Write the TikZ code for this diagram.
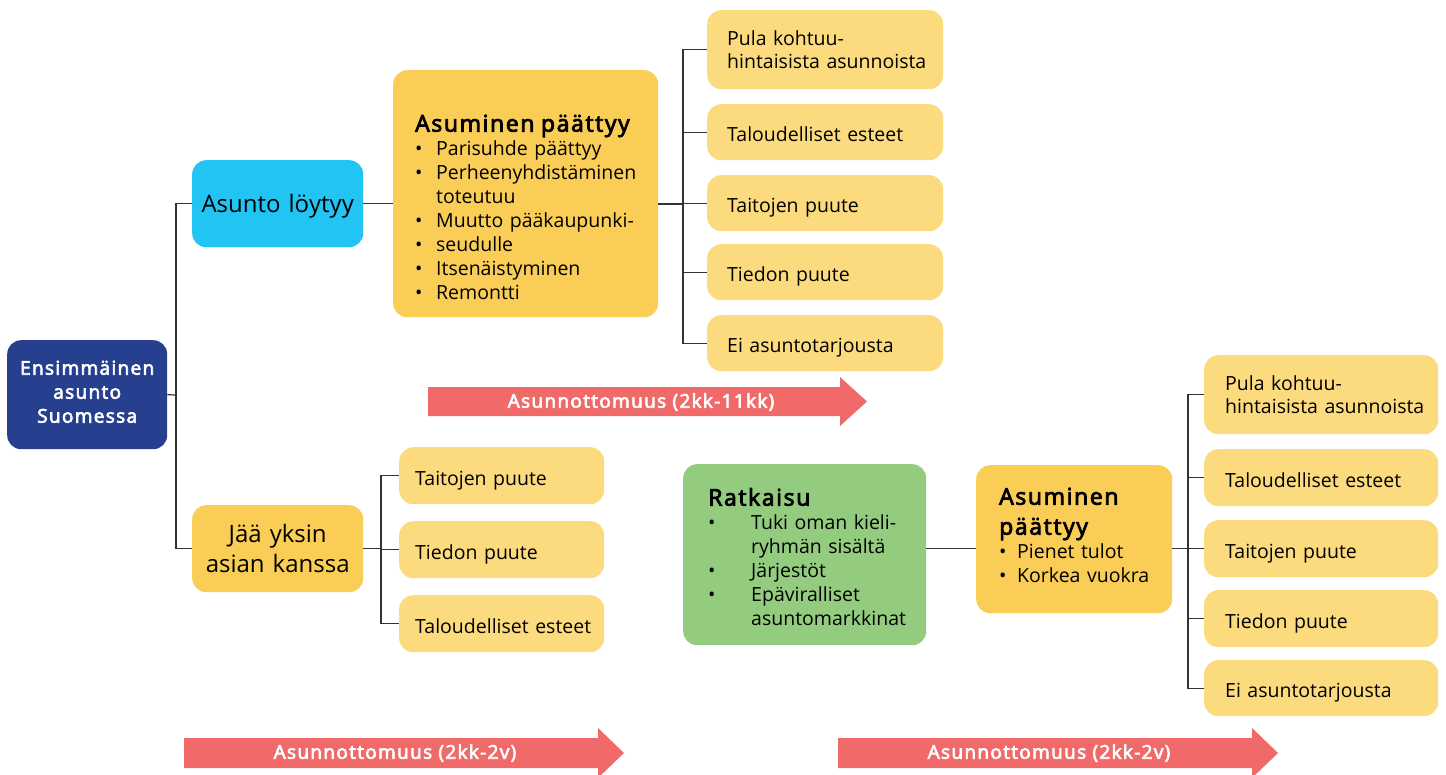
\documentclass[tikz,border=0pt]{standalone}
\usepackage{fontspec}
\setmainfont{Open Sans}[BoldFont={Open Sans}, BoldFeatures={FakeBold=3.5, LetterSpace=7}]
\usetikzlibrary{positioning}

\definecolor{startblue}{HTML}{26408F}
\definecolor{foundcyan}{HTML}{21C4F3}
\definecolor{endyellow}{HTML}{FACD56}
\definecolor{causeyellow}{HTML}{FCDB7E}
\definecolor{fixgreen}{HTML}{93CC7F}
\definecolor{timered}{HTML}{F06A69}
\definecolor{linegray}{HTML}{333333}

\lefthyphenmin=62
\newcommand{\itembul}[1][21pt]{\makebox[#1][l]{\textbullet}}

\tikzset{
  box/.style={rounded corners=14pt, anchor=north west, inner ysep=0pt, align=left},
  startbox/.style={box, fill=startblue, text=white, align=center, inner xsep=5pt,
    text width=150pt, font=\fontsize{19}{24}\selectfont\bfseries},
  mainbox/.style={box, align=center, inner xsep=4pt, text width=163pt,
    font=\fontsize{24}{30}\selectfont},
  endbox/.style={box, fill=endyellow, inner xsep=22pt, font=\fontsize{19.5}{24}\selectfont},
  fixbox/.style={box, fill=fixgreen, inner xsep=25pt, font=\fontsize{19.5}{24}\selectfont},
  causebox/.style={box, fill=causeyellow, inner xsep=20pt, font=\fontsize{19.5}{22.5}\selectfont},
  singlebox/.style={causebox, execute at begin node={\rule[-7pt]{0pt}{33pt}}},
  link/.style={draw=linegray, line width=1.2pt},
  timearrow/.style={fill=timered},
  timetext/.style={text=white, font=\fontsize{19}{20}\selectfont\bfseries}
}

\begin{document}
\begin{tikzpicture}[x=1pt,y=-1pt]
\useasboundingbox (0,0) rectangle (1446,774);

% start and the two paths
\node[startbox, minimum height=109pt] (start) at (7,340) {Ensimmäinen\\asunto\\Suomessa\rule[-6pt]{0pt}{0pt}};
\node[mainbox, fill=foundcyan, minimum height=87pt] (found) at (192,160) {\rule[-6pt]{0pt}{30pt}Asunto~löytyy};
\node[mainbox, fill=endyellow, minimum height=87pt] (alone) at (192,505) {Jää yksin\\asian kanssa};

% housing found
\node[endbox, text width=221pt, minimum height=247pt] (end1) at (393,70)
  {\rule{0pt}{44pt}{\fontsize{23}{24}\selectfont\bfseries Asuminen~päättyy}\\
   \itembul Parisuhde~päättyy\\
   \itembul Perheenyhdistäminen\\
   \hspace*{21pt}toteutuu\\
   \itembul Muutto~pääkaupunki-\\
   \itembul seudulle\\
   \itembul Itsenäistyminen\\
   \itembul Remontti};

\node[causebox, text width=196pt, minimum height=79pt] (c1) at (707,10) {Pula~kohtuu-\\hintaisista~asunnoista};
\node[singlebox, text width=196pt, minimum height=56pt] (c2) at (707,104) {Taloudelliset~esteet};
\node[singlebox, text width=196pt, minimum height=56pt] (c3) at (707,175) {Taitojen~puute};
\node[singlebox, text width=196pt, minimum height=56pt] (c4) at (707,244) {Tiedon~puute};
\node[singlebox, text width=196pt, minimum height=56pt] (c5) at (707,315) {Ei~asuntotarjousta};

% left alone
\node[singlebox, inner xsep=16pt, text width=173pt, minimum height=57pt] (a1) at (399,447) {Taitojen~puute};
\node[singlebox, inner xsep=16pt, text width=173pt, minimum height=57pt] (a2) at (399,521) {Tiedon~puute};
\node[singlebox, inner xsep=16pt, text width=173pt, minimum height=57pt] (a3) at (399,595) {Taloudelliset~esteet};

% solution and second ending
\node[fixbox, text width=193pt, minimum height=181pt] (fix) at (683,464)
  {\rule{0pt}{22pt}{\fontsize{23}{24}\selectfont\bfseries Ratkaisu}\\
   \itembul[43pt]Tuki~oman~kieli-\\
   \hspace*{43pt}ryhmän~sisältä\\
   \itembul[43pt]Järjestöt\\
   \itembul[43pt]Epäviralliset\\
   \hspace*{43pt}asuntomarkkinat};
\node[endbox, inner xsep=23pt, text width=150pt, minimum height=148pt] (end2) at (976,465)
  {{\fontsize{23}{24}\selectfont\bfseries Asuminen}\\[6pt]
   {\fontsize{23}{24}\selectfont\bfseries päättyy}\\
   \itembul[18pt]Pienet~tulot\\
   \itembul[18pt]Korkea~vuokra\rule[-8pt]{0pt}{0pt}};

\node[causebox, inner xsep=21pt, text width=192pt, minimum height=79pt] (r1) at (1204,355) {Pula~kohtuu-\\hintaisista~asunnoista};
\node[singlebox, inner xsep=21pt, text width=192pt, minimum height=57pt] (r2) at (1204,449) {Taloudelliset~esteet};
\node[singlebox, inner xsep=21pt, text width=192pt, minimum height=57pt] (r3) at (1204,520) {Taitojen~puute};
\node[singlebox, inner xsep=21pt, text width=192pt, minimum height=57pt] (r4) at (1204,590) {Tiedon~puute};
\node[singlebox, inner xsep=21pt, text width=192pt, minimum height=56pt] (r5) at (1204,660) {Ei~asuntotarjousta};

% connectors
\coordinate (b0) at (176,395);
\draw[link] (start.east) -- (b0);
\draw[link] (found.west) -- (b0 |- found.west) -- (b0 |- alone.west) -- (alone.west);

\coordinate (b1) at (683,204);
\draw[link] (found.east) -- (found.east -| end1.west);
\draw[link] (end1.east |- b1) -- (b1);
\draw[link] (c1.west) -- (b1 |- c1.west) -- (b1 |- c5.west) -- (c5.west);
\foreach \n in {c2,c3,c4}
  \draw[link] (b1 |- \n.west) -- (\n.west);

\coordinate (b2) at (381,548);
\draw[link] (alone.east) -- (alone.east -| b2);
\draw[link] (a1.west) -- (b2 |- a1.west) -- (b2 |- a3.west) -- (a3.west);
\draw[link] (b2 |- a2.west) -- (a2.west);

\coordinate (b3) at (1188,549);
\draw[link] (fix.east |- r3.west) -- (end2.west |- r3.west);
\draw[link] (end2.east |- r3.west) -- (r3.west);
\draw[link] (r1.west) -- (b3 |- r1.west) -- (b3 |- r5.west) -- (r5.west);
\foreach \n in {r2,r4}
  \draw[link] (b3 |- \n.west) -- (\n.west);

% time arrows
\fill[timearrow] (428,387) -- (840,387) -- (840,377) -- (867,401.5) -- (840,426) -- (840,416) -- (428,416) -- cycle;
\node[timetext] (t1) at (641,402) {Asunnottomuus (2kk-11kk)};
\fill[timearrow] (184,738) -- (598,738) -- (598,728) -- (624,753) -- (598,778) -- (598,768) -- (184,768) -- cycle;
\node[timetext] (t2) at (395,753) {Asunnottomuus (2kk-2v)};
\fill[timearrow] (838,738) -- (1252,738) -- (1252,728) -- (1278,753) -- (1252,778) -- (1252,768) -- (838,768) -- cycle;
\node[timetext] (t3) at (1049,753) {Asunnottomuus (2kk-2v)};
\end{tikzpicture}
\end{document}
